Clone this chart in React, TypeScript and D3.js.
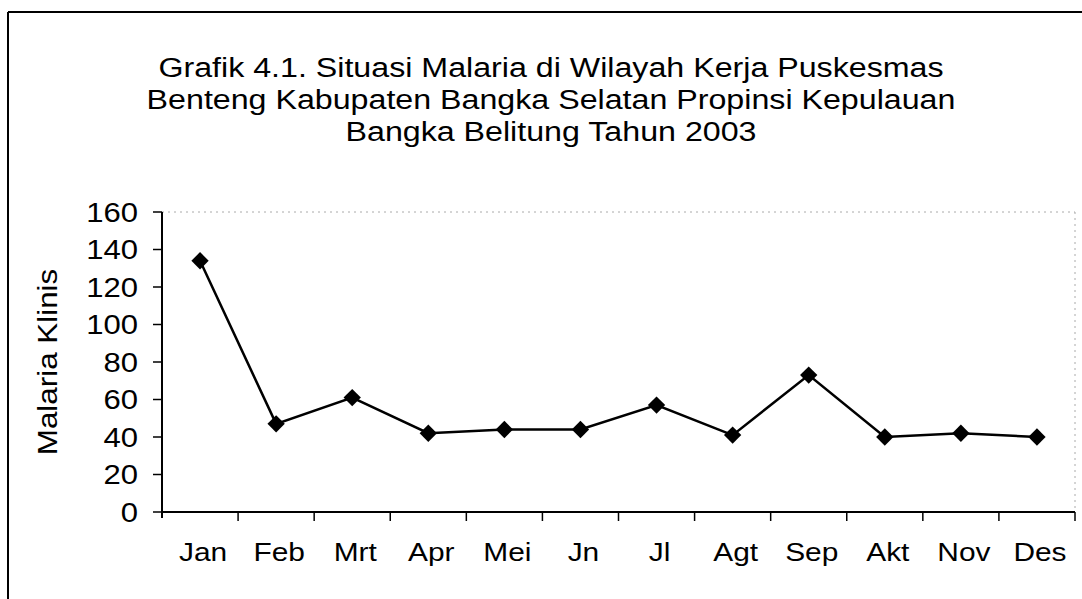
import React from 'react';
import * as d3 from 'd3';

const months = ['Jan', 'Feb', 'Mrt', 'Apr', 'Mei', 'Jn', 'Jl', 'Agt', 'Sep', 'Akt', 'Nov', 'Des'];
const malariaKlinis = [134, 47, 61, 42, 44, 44, 57, 41, 73, 40, 42, 40];
const yTicks = [0, 20, 40, 60, 80, 100, 120, 140, 160];
const titleLines = [
  'Grafik 4.1. Situasi Malaria di Wilayah Kerja Puskesmas',
  'Benteng Kabupaten Bangka Selatan Propinsi Kepulauan',
  'Bangka Belitung Tahun 2003',
];

const W = 1082;
const H = 599;
const FONT = '"Liberation Sans", Arial, sans-serif';
// the scanned chart's lettering is a bit wider than plain Arial
const SX = 1.15;

function Label(props: { x: number; y: number; size: number; anchor: string; dy?: string; children: React.ReactNode }) {
  return (
    <text transform={`translate(${props.x},${props.y}) scale(${SX},1)`} dy={props.dy}
      textAnchor={props.anchor} fontSize={props.size} fill="#000">{props.children}</text>
  );
}

export default function App() {
  const x0 = 162, x1 = 1075, y0 = 512, y1 = 212;
  const x = d3.scaleBand<string>().domain(months).range([x0, x1]);
  const y = d3.scaleLinear().domain([0, 160]).range([y0, y1]);
  const cx = (m: string) => (x(m) as number) + x.bandwidth() / 2;
  const line = d3.line<number>()
    .x((_, i) => cx(months[i]))
    .y(d => y(d));
  // diamond marker = square turned 45 degrees
  const marker = d3.symbol().type(d3.symbolSquare).size(150)();

  return (
    <svg width={W} height={H} style={{ position: 'absolute', left: 0, top: 0, background: '#fff' }}
      fontFamily={FONT}>
      {/* outer chart border */}
      <line x1={8} y1={12} x2={W} y2={12} stroke="#000" strokeWidth={2} />
      <line x1={8} y1={12} x2={8} y2={H} stroke="#000" strokeWidth={2} />

      {titleLines.map((t, i) => (
        <Label key={i} x={551} y={77 + i * 32} size={28} anchor="middle">{t}</Label>
      ))}

      {/* plot area border (faint) */}
      <line x1={x0} y1={y1} x2={x1} y2={y1} stroke="#aaa" strokeWidth={1} strokeDasharray="2,4" />
      <line x1={x1} y1={y1} x2={x1} y2={y0} stroke="#aaa" strokeWidth={1} strokeDasharray="2,4" />

      {/* y axis */}
      <line x1={x0} y1={y1} x2={x0} y2={y0 + 6} stroke="#000" strokeWidth={2} />
      {yTicks.map(v => (
        <g key={v}>
          <line x1={x0 - 9} y1={y(v)} x2={x0} y2={y(v)} stroke="#000" strokeWidth={1.5} />
          <Label x={138} y={y(v)} dy="0.36em" size={27} anchor="end">{v}</Label>
        </g>
      ))}
      <text transform={`translate(57,${(y0 + y1) / 2}) rotate(-90) scale(1.12,1)`} textAnchor="middle" fontSize={28} fill="#000">
        Malaria Klinis
      </text>

      {/* x axis */}
      <line x1={x0} y1={y0} x2={x1} y2={y0} stroke="#000" strokeWidth={2} />
      {months.map(m => (
        <line key={'t' + m} x1={(x(m) as number) + x.bandwidth()} y1={y0} x2={(x(m) as number) + x.bandwidth()} y2={y0 + 9}
          stroke="#000" strokeWidth={1.5} />
      ))}
      {months.map(m => (
        <Label key={m} x={cx(m) + 3} y={561} size={26} anchor="middle">{m}</Label>
      ))}

      {/* series */}
      <path d={line(malariaKlinis) || ''} fill="none" stroke="#000" strokeWidth={2.5} />
      {malariaKlinis.map((v, i) => (
        <path key={i} d={marker || ''} fill="#000"
          transform={`translate(${cx(months[i])},${y(v)}) rotate(45)`} />
      ))}
    </svg>
  );
}
